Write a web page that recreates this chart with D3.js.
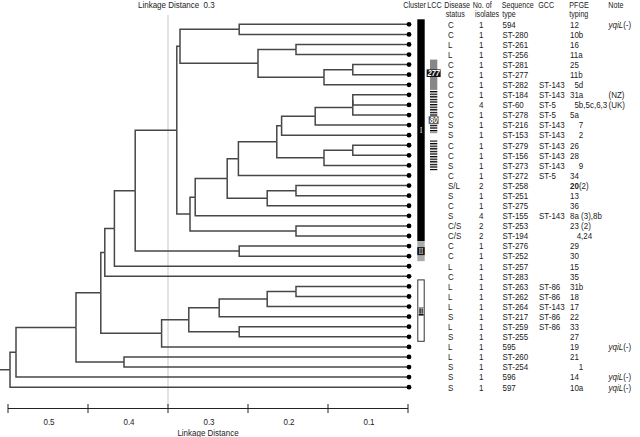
<!DOCTYPE html>
<html><head><meta charset="utf-8">
<script src="https://cdn.jsdelivr.net/npm/d3@7"></script>
<style>
html,body{margin:0;padding:0;background:#fff;}
svg text{font-family:'Liberation Sans',Arial,sans-serif;font-size:9.5px;fill:#222;white-space:pre;}
</style></head><body>
<svg id="c" width="640" height="437"></svg>
<script>
// ---- data ----
const disease = ["C","C","L","L","C","C","C","C","C","C","S","S","C","C","S","C","S/L","S","C","S","C/S","C/S","C","C","L","C","L","L","L","S","L","S","L","L","S","S","S"];
const isolates = [1,1,1,1,1,1,1,1,4,1,1,1,1,1,1,1,2,1,1,4,2,2,1,1,1,1,1,1,1,1,1,1,1,1,1,1,1];
const seqType = ["594","ST-280","ST-261","ST-256","ST-281","ST-277","ST-282","ST-184","ST-60","ST-278","ST-216","ST-153","ST-279","ST-156","ST-273","ST-272","ST-258","ST-251","ST-275","ST-155","ST-253","ST-194","ST-276","ST-252","ST-257","ST-283","ST-263","ST-262","ST-264","ST-217","ST-259","ST-255","595","ST-260","ST-254","596","597"];
const gcc = ["","","","","","","ST-143","ST-143","ST-5","ST-5","ST-143","ST-143","ST-143","ST-143","ST-143","ST-5","","","","ST-143","","","","","","","ST-86","ST-86","ST-143","ST-86","ST-86","","","","","",""];
const pfge = ["12","10b","16","11a","25","11b","  5d","31a","  5b,5c,6,3","5a","    7","    2","26","28","    9","34","20|(2)","13","36","8a (3),8b","23 (2)","   4,24","29","30","15","35","31b","18","17","22","33","27","19","21","    1","14","10a"];
const note = ["yqiL|(-)","","","","","","","(NZ)","(UK)","","","","","","","","","","","","","","","","","","","","","","","","yqiL|(-)","","","yqiL|(-)","yqiL|(-)"];
// hierarchical merges (hclust style: negative = leaf row, positive = earlier merge), linkage distance
const mergeA = [-1,-3,-5,3,2,1,-8,7,8,9,-13,11,10,13,-17,15,14,17,-21,18,6,-23,21,23,24,-27,26,27,-31,28,30,25,-34,32,34,35];
const mergeB = [-2,-4,-6,-7,4,5,-9,-10,-11,-12,-14,-15,12,-16,-18,-19,16,-20,-22,19,20,-24,22,-25,-26,-28,-29,-30,-32,29,-33,31,-35,33,-36,-37];
const mergeH = [0.211,0.140,0.069,0.105,0.1875,0.285,0.069,0.069,0.116,0.158,0.069,0.105,0.164,0.212,0.140,0.176,0.226,0.266,0.140,0.2725,0.289,0.211,0.341,0.367,0.379,0.140,0.176,0.236,0.211,0.274,0.308,0.384,0.355,0.415,0.490,0.4975];
const axisTicks = [0.5,0.4,0.3,0.2,0.1,0];
const axisLabels = [0.5,0.4,0.3,0.2,0.1];
const cutoff = 0.3;
const clusterLabels = ["I","II","III"];
const clusterStart = [1,23,27];
const clusterEnd = [22,24,32];
const lccLabels = ["277","80",""];
const lccStart = [5,8,13];
const lccEnd = [7,11,15];
const headers1 = ["Cluster","LCC","Disease","No. of","Sequence","GCC","PFGE","Note"];
const headers2 = ["","","status","isolates","type","","typing",""];

(function(){
const svg = d3.select("#c");
const x = d3.scaleLinear().domain([0.5,0]).range([8,408]);
const y = d3.scaleLinear().domain([1,37]).range([24.3,387.2]);
const SX = 0.84; // condensed text
function T(parent, X, Y, anchor){
  return parent.append("text").attr("transform",`translate(${X},${Y}) scale(${SX},1)`)
    .attr("text-anchor",anchor||"start");
}

const leaves = seqType.map((s,i)=>({row:i+1,height:0}));
const nodes = [];
mergeA.forEach((a,i)=>{
  const g = k => k<0 ? leaves[-k-1] : nodes[k-1];
  nodes.push({children:[g(a),g(mergeB[i])],height:mergeH[i]});
});
const root = d3.hierarchy(nodes[nodes.length-1]);
root.eachAfter(n=>{
  n.px = x(n.data.height);
  if(!n.children) n.py = y(n.data.row);
  else n.py = (n.children[0].py + n.children[n.children.length-1].py)/2;
});

// cutoff line
svg.append("line").attr("x1",x(cutoff)).attr("x2",x(cutoff)).attr("y1",15).attr("y2",406)
  .attr("stroke","#c8c8c8").attr("stroke-width",1);
T(svg, x(cutoff)-30, 8).text("Linkage Distance  "+cutoff);

// dendrogram links
const g = svg.append("g").attr("fill","none").attr("stroke","#474747").attr("stroke-width",1.5);
g.selectAll("path.l").data(root.links()).join("path")
  .attr("d",l=>`M${l.source.px},${l.source.py}V${l.target.py}H${l.target.children?l.target.px:x(0)}`);
g.append("path").attr("d",`M${x(0.51)},${root.py}H${root.px}`);
svg.append("g").selectAll("circle").data(root.leaves()).join("circle")
  .attr("cx",x(0)+1).attr("cy",d=>d.py).attr("r",2.4).attr("fill","#000");

// axis
const ay = 408.5;
const ax = svg.append("g").attr("stroke","#222").attr("stroke-width",1);
ax.append("line").attr("x1",x(0.5)).attr("x2",x(0)).attr("y1",ay).attr("y2",ay);
ax.selectAll("line.t").data(axisTicks).join("line").attr("class","t")
  .attr("x1",d=>x(d)).attr("x2",d=>x(d)).attr("y1",ay-4.5).attr("y2",ay+4.5);
axisLabels.forEach(d=>T(svg, x(d)+41, 425, "middle").text(d3.format(".1f")(d)));
T(svg, x(0.3)+40, 436, "middle").text("Linkage Distance");

// headers
const colX = [403.3,427.3,444.3,472.7,501.7,538.3,569.3,608.3];
const col2X = [0,0,445.7,475,502.3,0,569.3,0];
headers1.forEach((h,i)=>T(svg, colX[i], 8).style("font-size","8.5px").text(h));
headers2.forEach((h,i)=>{ if(h) T(svg, col2X[i], 16.5).style("font-size","8.5px").text(h); });

// table rows
const rowsG = svg.append("g");
const by = i => y(i+1)+3.3;
disease.forEach((d,i)=>T(rowsG,448,by(i)).text(d));
isolates.forEach((d,i)=>T(rowsG,479,by(i)).text(d));
seqType.forEach((d,i)=>T(rowsG,502.5,by(i)).text(d));
gcc.forEach((d,i)=>T(rowsG,539,by(i)).text(d));
pfge.forEach((d,i)=>{
  const t = T(rowsG,570,by(i));
  const p = d.split("|");
  if(p.length>1){ t.append("tspan").attr("font-weight","bold").text(p[0]); t.append("tspan").text(p[1]); }
  else t.text(d);
});
note.forEach((d,i)=>{
  if(!d) return;
  const t = T(rowsG,608.5,by(i));
  const p = d.split("|");
  if(p.length>1){ t.append("tspan").attr("font-style","italic").text(p[0]); t.append("tspan").text(p[1]); }
  else t.text(d);
});

// cluster column
const cx0 = 417.3, cw = 7.4;
const topY = r => y(r)-5, botY = r => y(r)+5;
const clusterFill = ["#000","#ababab","#fff"];
clusterLabels.forEach((lab,i)=>{
  svg.append("rect").attr("x",cx0+(i==2?0.5:0)).attr("y",topY(clusterStart[i])+(i==2?-1.5:0)).attr("width",cw-(i==2?1:0))
    .attr("height",botY(clusterEnd[i])-topY(clusterStart[i])+(i==2?1:0))
    .attr("fill",clusterFill[i]).attr("stroke",i==2?"#333":"none");
  const cy = (y(clusterStart[i])+y(clusterEnd[i]))/2;
  if(i>0) svg.append("rect").attr("x",cx0+(i==2?1.3:0)).attr("y",cy-4).attr("width",cw-(i==2?2.4:0)).attr("height",8).attr("fill","#111");
  T(svg, cx0+cw/2, cy+2.8, "middle")
    .style("font-family","'Liberation Serif',serif").style("font-size","8px").style("fill","#fff").text(lab);
});

// LCC column
const lx0 = 430, lw = 7.3;
const defs = svg.append("defs");
const pat = defs.append("pattern").attr("id","stripe").attr("patternUnits","userSpaceOnUse").attr("width",10).attr("height",2.6);
pat.append("rect").attr("width",10).attr("height",1.3).attr("fill","#000");
lccLabels.forEach((lab,i)=>{
  const t0 = topY(lccStart[i]), t1 = botY(lccEnd[i]) + (i==1?3:0);
  svg.append("rect").attr("x",lx0).attr("y",t0).attr("width",lw).attr("height",t1-t0)
    .attr("fill",i==0?"#878787":"url(#stripe)");
  if(lab){
    const cy = i==1 ? botY(lccEnd[i])-10 : (t0+t1)/2 - 1.5;
    const w = i==0?14:9.5;
    svg.append("rect").attr("x",lx0+lw/2-w/2).attr("y",cy-3.8).attr("width",w).attr("height",7.6)
      .attr("fill",i==1?"#3a3a3a":"#111").attr("stroke",i==1?"#999":"none").attr("stroke-width",0.6);
    T(svg, lx0+lw/2, cy+2.9, "middle")
      .style("font-size","8.5px").style("font-style","italic").style("font-weight","bold").style("fill","#fff").text(lab);
  }
});
})();
</script>
</body></html>
